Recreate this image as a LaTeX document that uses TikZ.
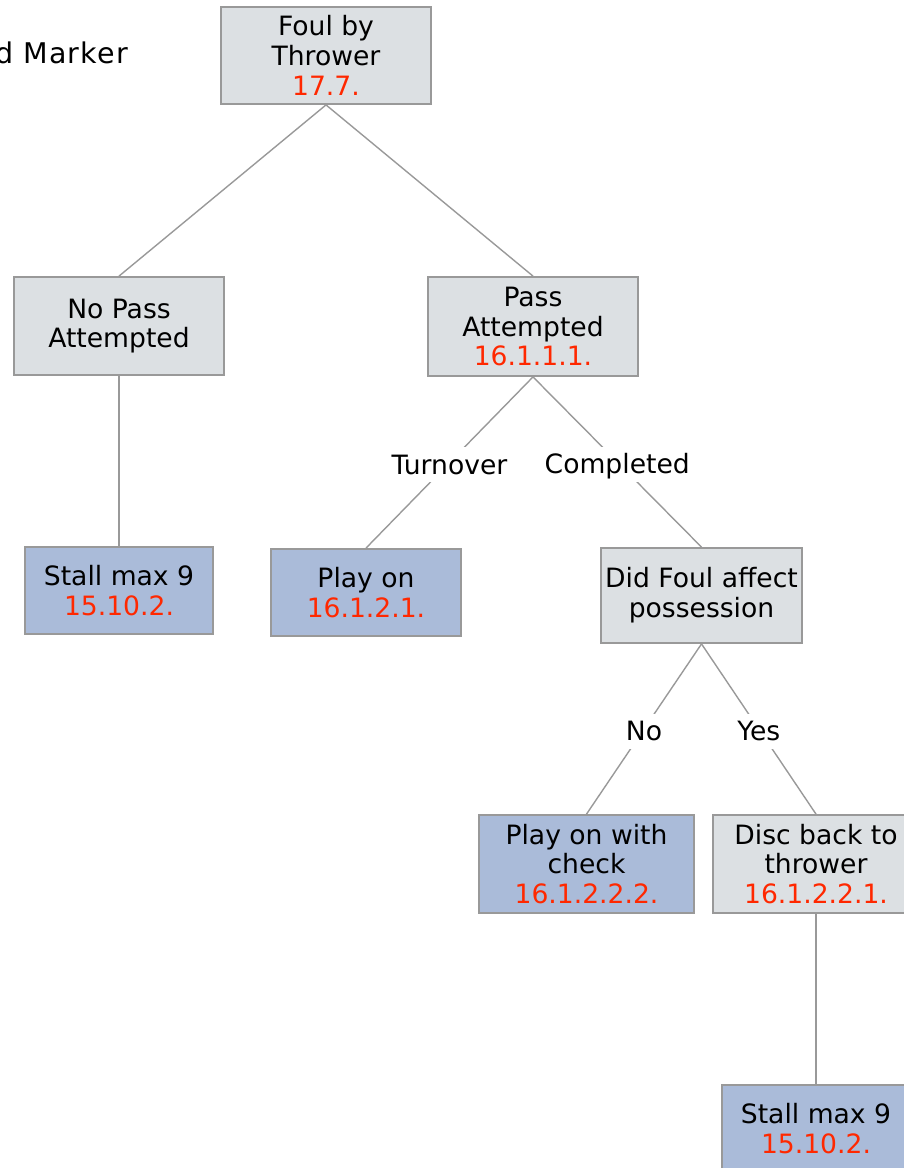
\documentclass[tikz,border=0pt]{standalone}
\usepackage{fontspec}
\setmainfont{DejaVu Sans}
\definecolor{boxgray}{RGB}{220,224,227}
\definecolor{boxblue}{RGB}{170,187,217}
\definecolor{edgegray}{RGB}{153,153,153}
\definecolor{numred}{RGB}{255,40,0}
\newcommand{\rnum}[1]{\textcolor{numred}{#1}}
\tikzset{
  tnode/.style={draw=edgegray, line width=1.8pt, inner sep=0pt, align=center,
    font=\fontsize{26.6}{29.8}\selectfont},
  gnode/.style={tnode, fill=boxgray},
  bnode/.style={tnode, fill=boxblue},
  conn/.style={draw=edgegray, line width=1.4pt},
  lbl/.style={fill=white, inner sep=3pt, text height=24pt, text depth=5pt,
    yshift=-2pt, font=\fontsize{26.6}{29.8}\selectfont}
}
\begin{document}
\begin{tikzpicture}[x=1pt, y=-1pt]
\useasboundingbox (0,0) rectangle (903,1168);

% caption fragment at the top left
\node[anchor=base east, inner sep=0pt,
  font=\fontsize{28.5}{31}\selectfont\addfontfeatures{LetterSpace=4}] (caption) at (128,63) {d Marker};

% tree nodes
\node[gnode, minimum width=210pt, minimum height=97pt] (foul) at (326,55.5)
  {Foul by\\Thrower\\\rnum{17.7.}};
\node[gnode, minimum width=210pt, minimum height=98pt] (nopass) at (119,326)
  {No Pass\\Attempted};
\node[gnode, minimum width=210pt, minimum height=99pt] (pass) at (533,326.5)
  {Pass\\Attempted\\\rnum{16.1.1.1.}};
\node[bnode, minimum width=188pt, minimum height=87pt] (stallA) at (119,590.5)
  {Stall max 9\\\rnum{15.10.2.}};
\node[bnode, minimum width=190pt, minimum height=87pt] (playon) at (366,592.5)
  {Play on\\\rnum{16.1.2.1.}};
\node[gnode, minimum width=201pt, minimum height=95pt] (affect) at (701.5,595.5)
  {Did Foul affect\\possession};
\node[bnode, minimum width=215pt, minimum height=98pt] (check) at (586.5,864)
  {Play on with\\check\\\rnum{16.1.2.2.2.}};
\node[gnode, minimum width=206pt, minimum height=98pt] (disc) at (816,864)
  {Disc back to\\thrower\\\rnum{16.1.2.2.1.}};
\node[bnode, minimum width=188pt, minimum height=87pt] (stallB) at (816,1128.5)
  {Stall max 9\\\rnum{15.10.2.}};

% connectors
\draw[conn] (foul.south) -- (nopass.north);
\draw[conn] (foul.south) -- (pass.north);
\draw[conn] (nopass.south) -- (stallA.north);
\draw[conn] (pass.south) -- node[lbl] {Turnover} (playon.north);
\draw[conn] (pass.south) -- node[lbl] {Completed} (affect.north);
\draw[conn] (affect.south) -- node[lbl] {No} (check.north);
\draw[conn] (affect.south) -- node[lbl] {Yes} (disc.north);
\draw[conn] (disc.south) -- (stallB.north);
\end{tikzpicture}
\end{document}
